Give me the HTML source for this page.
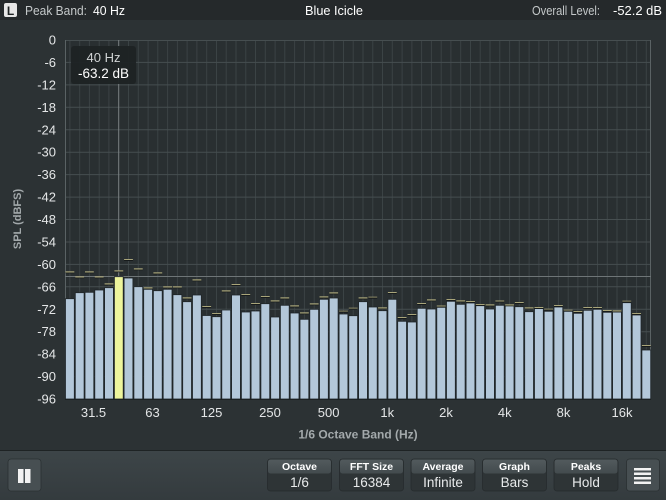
<!DOCTYPE html>
<html><head><meta charset="utf-8"><style>
html,body{margin:0;padding:0;background:#2c3234;}
svg{display:block;font-family:"Liberation Sans",sans-serif;}
</style></head><body>
<svg width="666" height="500" viewBox="0 0 666 500" xmlns="http://www.w3.org/2000/svg">
<defs>
<linearGradient id="pk" x1="0" y1="0" x2="0" y2="1"><stop offset="0" stop-color="#a9a57a"/><stop offset="0.5" stop-color="#a9a57a"/><stop offset="0.5" stop-color="#161a1b"/><stop offset="1" stop-color="#161a1b"/></linearGradient>
<linearGradient id="tb" x1="0" y1="0" x2="0" y2="1"><stop offset="0" stop-color="#3d4548"/><stop offset="1" stop-color="#343b3e"/></linearGradient>
<linearGradient id="bh" x1="0" y1="0" x2="0" y2="1"><stop offset="0" stop-color="#525a5d"/><stop offset="1" stop-color="#434b4e"/></linearGradient>
</defs>
<rect x="0" y="0" width="666" height="500" fill="#2c3234"/>
<rect x="0" y="0" width="666" height="20" fill="#25292b"/>
<rect x="4" y="3" width="13" height="14" rx="2" fill="#e6e6e6"/>
<text x="10.5" y="15" font-size="12" font-weight="bold" fill="#1d2122" text-anchor="middle">L</text>
<text x="25" y="15" font-size="13" fill="#c4c8c9" textLength="62" lengthAdjust="spacingAndGlyphs">Peak Band:</text>
<text x="93" y="15" font-size="13" fill="#ffffff" textLength="32" lengthAdjust="spacingAndGlyphs">40 Hz</text>
<text x="334" y="15" font-size="13" fill="#ffffff" text-anchor="middle" textLength="58" lengthAdjust="spacingAndGlyphs">Blue Icicle</text>
<text x="532" y="15" font-size="13" fill="#c4c8c9" textLength="68" lengthAdjust="spacingAndGlyphs">Overall Level:</text>
<text x="613" y="15" font-size="13" fill="#ffffff" textLength="49" lengthAdjust="spacingAndGlyphs">-52.2 dB</text>

<rect x="65" y="40" width="586" height="359" fill="#292f31"/>
<g stroke="#3b4345" stroke-width="1">
<path d="M69.9 40V399M79.7 40V399M89.4 40V399M99.2 40V399M108.9 40V399M128.5 40V399M138.3 40V399M148.1 40V399M157.8 40V399M167.6 40V399M177.4 40V399M187.1 40V399M196.9 40V399M206.7 40V399M216.5 40V399M226.2 40V399M236.0 40V399M245.8 40V399M255.5 40V399M265.3 40V399M275.1 40V399M284.8 40V399M294.6 40V399M304.4 40V399M314.2 40V399M323.9 40V399M333.7 40V399M343.5 40V399M353.2 40V399M363.0 40V399M372.8 40V399M382.5 40V399M392.3 40V399M402.1 40V399M411.9 40V399M421.6 40V399M431.4 40V399M441.2 40V399M450.9 40V399M460.7 40V399M470.5 40V399M480.2 40V399M490.0 40V399M499.8 40V399M509.6 40V399M519.3 40V399M529.1 40V399M538.9 40V399M548.6 40V399M558.4 40V399M568.2 40V399M577.9 40V399M587.7 40V399M597.5 40V399M607.3 40V399M617.0 40V399M626.8 40V399M636.6 40V399M646.3 40V399"/>
</g>
<g stroke="#464e50" stroke-width="1">
<path d="M65 40.5H651M65 62.4H651M65 84.9H651M65 107.3H651M65 129.8H651M65 152.2H651M65 174.6H651M65 197.1H651M65 219.5H651M65 242H651M65 264.4H651M65 286.8H651M65 309.3H651M65 331.7H651M65 354.2H651M65 376.6H651"/>
</g>
<path d="M65.5 40V399M650.5 40V399" stroke="#5a6264" stroke-width="1"/>
<path d="M118.7 40V399" stroke="#7a8183" stroke-width="1"/>
<path d="M65 276.5H651" stroke="#6e7577" stroke-width="1"/>

<g fill="#b3c7d9" stroke="#1f2528" stroke-width="0.8">
<rect x="65.5" y="298.7" width="8.8" height="100.3"/>
<rect x="75.3" y="292.7" width="8.8" height="106.3"/>
<rect x="85.0" y="292.3" width="8.8" height="106.7"/>
<rect x="94.8" y="290.0" width="8.8" height="109.0"/>
<rect x="104.6" y="287.7" width="8.8" height="111.3"/>
<rect x="124.1" y="278.0" width="8.8" height="121.0"/>
<rect x="133.9" y="286.7" width="8.8" height="112.3"/>
<rect x="143.7" y="289.3" width="8.8" height="109.7"/>
<rect x="153.4" y="290.7" width="8.8" height="108.3"/>
<rect x="163.2" y="289.3" width="8.8" height="109.7"/>
<rect x="173.0" y="294.7" width="8.8" height="104.3"/>
<rect x="182.7" y="301.7" width="8.8" height="97.3"/>
<rect x="192.5" y="295.0" width="8.8" height="104.0"/>
<rect x="202.3" y="315.5" width="8.8" height="83.5"/>
<rect x="212.1" y="316.7" width="8.8" height="82.3"/>
<rect x="221.8" y="310.0" width="8.8" height="89.0"/>
<rect x="231.6" y="295.0" width="8.8" height="104.0"/>
<rect x="241.4" y="312.0" width="8.8" height="87.0"/>
<rect x="251.1" y="311.0" width="8.8" height="88.0"/>
<rect x="260.9" y="303.7" width="8.8" height="95.3"/>
<rect x="270.7" y="317.0" width="8.8" height="82.0"/>
<rect x="280.4" y="305.3" width="8.8" height="93.7"/>
<rect x="290.2" y="313.0" width="8.8" height="86.0"/>
<rect x="300.0" y="319.3" width="8.8" height="79.7"/>
<rect x="309.8" y="309.3" width="8.8" height="89.7"/>
<rect x="319.5" y="299.3" width="8.8" height="99.7"/>
<rect x="329.3" y="298.0" width="8.8" height="101.0"/>
<rect x="339.1" y="314.0" width="8.8" height="85.0"/>
<rect x="348.8" y="315.7" width="8.8" height="83.3"/>
<rect x="358.6" y="301.7" width="8.8" height="97.3"/>
<rect x="368.4" y="307.0" width="8.8" height="92.0"/>
<rect x="378.1" y="310.7" width="8.8" height="88.3"/>
<rect x="387.9" y="299.3" width="8.8" height="99.7"/>
<rect x="397.7" y="321.3" width="8.8" height="77.7"/>
<rect x="407.5" y="322.0" width="8.8" height="77.0"/>
<rect x="417.2" y="308.3" width="8.8" height="90.7"/>
<rect x="427.0" y="309.0" width="8.8" height="90.0"/>
<rect x="436.8" y="307.3" width="8.8" height="91.7"/>
<rect x="446.5" y="301.3" width="8.8" height="97.7"/>
<rect x="456.3" y="304.3" width="8.8" height="94.7"/>
<rect x="466.1" y="303.0" width="8.8" height="96.0"/>
<rect x="475.8" y="305.7" width="8.8" height="93.3"/>
<rect x="485.6" y="309.0" width="8.8" height="90.0"/>
<rect x="495.4" y="305.3" width="8.8" height="93.7"/>
<rect x="505.2" y="305.7" width="8.8" height="93.3"/>
<rect x="514.9" y="306.7" width="8.8" height="92.3"/>
<rect x="524.7" y="311.7" width="8.8" height="87.3"/>
<rect x="534.5" y="308.3" width="8.8" height="90.7"/>
<rect x="544.2" y="311.3" width="8.8" height="87.7"/>
<rect x="554.0" y="307.0" width="8.8" height="92.0"/>
<rect x="563.8" y="311.0" width="8.8" height="88.0"/>
<rect x="573.5" y="313.3" width="8.8" height="85.7"/>
<rect x="583.3" y="310.3" width="8.8" height="88.7"/>
<rect x="593.1" y="309.3" width="8.8" height="89.7"/>
<rect x="602.9" y="312.3" width="8.8" height="86.7"/>
<rect x="612.6" y="312.0" width="8.8" height="87.0"/>
<rect x="622.4" y="302.7" width="8.8" height="96.3"/>
<rect x="632.2" y="315.0" width="8.8" height="84.0"/>
<rect x="641.9" y="350.0" width="8.8" height="49.0"/>
</g>
<rect x="114.4" y="276.7" width="8.8" height="122.3" fill="#eef59c" stroke="#1f2528" stroke-width="0.8"/>

<g fill="url(#pk)">
<rect x="65.5" y="271.3" width="8.8" height="2"/>
<rect x="75.3" y="276.3" width="8.8" height="2"/>
<rect x="85.0" y="271.3" width="8.8" height="2"/>
<rect x="94.8" y="276.3" width="8.8" height="2"/>
<rect x="104.6" y="283.3" width="8.8" height="2"/>
<rect x="114.4" y="270.3" width="8.8" height="2"/>
<rect x="124.1" y="259.0" width="8.8" height="2"/>
<rect x="133.9" y="268.3" width="8.8" height="2"/>
<rect x="143.7" y="287.3" width="8.8" height="2"/>
<rect x="153.4" y="272.3" width="8.8" height="2"/>
<rect x="163.2" y="286.3" width="8.8" height="2"/>
<rect x="173.0" y="286.3" width="8.8" height="2"/>
<rect x="182.7" y="297.3" width="8.8" height="2"/>
<rect x="192.5" y="279.3" width="8.8" height="2"/>
<rect x="202.3" y="306.0" width="8.8" height="2"/>
<rect x="212.1" y="313.0" width="8.8" height="2"/>
<rect x="221.8" y="290.3" width="8.8" height="2"/>
<rect x="231.6" y="284.0" width="8.8" height="2"/>
<rect x="241.4" y="294.0" width="8.8" height="2"/>
<rect x="251.1" y="303.0" width="8.8" height="2"/>
<rect x="260.9" y="296.0" width="8.8" height="2"/>
<rect x="270.7" y="300.3" width="8.8" height="2"/>
<rect x="280.4" y="297.3" width="8.8" height="2"/>
<rect x="290.2" y="305.3" width="8.8" height="2"/>
<rect x="300.0" y="312.3" width="8.8" height="2"/>
<rect x="309.8" y="303.3" width="8.8" height="2"/>
<rect x="319.5" y="296.3" width="8.8" height="2"/>
<rect x="329.3" y="292.3" width="8.8" height="2"/>
<rect x="339.1" y="310.7" width="8.8" height="2"/>
<rect x="348.8" y="307.7" width="8.8" height="2"/>
<rect x="358.6" y="297.3" width="8.8" height="2"/>
<rect x="368.4" y="296.7" width="8.8" height="2"/>
<rect x="378.1" y="307.3" width="8.8" height="2"/>
<rect x="387.9" y="292.0" width="8.8" height="2"/>
<rect x="397.7" y="317.0" width="8.8" height="2"/>
<rect x="407.5" y="314.0" width="8.8" height="2"/>
<rect x="417.2" y="303.0" width="8.8" height="2"/>
<rect x="427.0" y="299.3" width="8.8" height="2"/>
<rect x="436.8" y="305.5" width="8.8" height="2"/>
<rect x="446.5" y="299.0" width="8.8" height="2"/>
<rect x="456.3" y="300.3" width="8.8" height="2"/>
<rect x="466.1" y="301.0" width="8.8" height="2"/>
<rect x="475.8" y="304.0" width="8.8" height="2"/>
<rect x="485.6" y="304.3" width="8.8" height="2"/>
<rect x="495.4" y="300.5" width="8.8" height="2"/>
<rect x="505.2" y="304.3" width="8.8" height="2"/>
<rect x="514.9" y="302.0" width="8.8" height="2"/>
<rect x="524.7" y="307.3" width="8.8" height="2"/>
<rect x="534.5" y="307.0" width="8.8" height="2"/>
<rect x="544.2" y="308.7" width="8.8" height="2"/>
<rect x="554.0" y="305.0" width="8.8" height="2"/>
<rect x="563.8" y="309.7" width="8.8" height="2"/>
<rect x="573.5" y="311.0" width="8.8" height="2"/>
<rect x="583.3" y="307.0" width="8.8" height="2"/>
<rect x="593.1" y="307.0" width="8.8" height="2"/>
<rect x="602.9" y="310.0" width="8.8" height="2"/>
<rect x="612.6" y="310.3" width="8.8" height="2"/>
<rect x="622.4" y="300.7" width="8.8" height="2"/>
<rect x="632.2" y="313.0" width="8.8" height="2"/>
<rect x="641.9" y="345.0" width="8.8" height="2"/>
</g>
<path d="M65 399.5H651" stroke="#1c2122" stroke-width="1"/>

<rect x="71" y="46" width="65" height="38" rx="3" fill="#1e2324" opacity="0.95"/>
<text x="103.5" y="62" font-size="13" fill="#d0d3d4" text-anchor="middle">40 Hz</text>
<text x="103.5" y="78" font-size="13.5" fill="#ffffff" text-anchor="middle">-63.2 dB</text>

<g font-size="13" fill="#e4e6e7" text-anchor="end">
<text x="56" y="44.5">0</text>
<text x="56" y="66.9">-6</text>
<text x="56" y="89.4">-12</text>
<text x="56" y="111.8">-18</text>
<text x="56" y="134.3">-24</text>
<text x="56" y="156.7">-30</text>
<text x="56" y="179.1">-36</text>
<text x="56" y="201.6">-42</text>
<text x="56" y="224">-48</text>
<text x="56" y="246.5">-54</text>
<text x="56" y="268.9">-60</text>
<text x="56" y="291.3">-66</text>
<text x="56" y="313.8">-72</text>
<text x="56" y="336.2">-78</text>
<text x="56" y="358.7">-84</text>
<text x="56" y="381.1">-90</text>
<text x="56" y="403.5">-96</text>
</g>
<text transform="translate(21,219) rotate(-90)" font-size="11" font-weight="bold" fill="#a3a9ab" text-anchor="middle">SPL (dBFS)</text>

<g font-size="13" fill="#e4e6e7" text-anchor="middle">
<text x="93.5" y="417">31.5</text>
<text x="152.5" y="417">63</text>
<text x="211.5" y="417">125</text>
<text x="270" y="417">250</text>
<text x="328.6" y="417">500</text>
<text x="387.3" y="417">1k</text>
<text x="446" y="417">2k</text>
<text x="504.8" y="417">4k</text>
<text x="563.5" y="417">8k</text>
<text x="622" y="417">16k</text>
</g>
<text x="358" y="438.5" font-size="12" font-weight="bold" fill="#a3a9ab" text-anchor="middle">1/6 Octave Band (Hz)</text>

<rect x="0" y="451" width="666" height="49" fill="url(#tb)"/>
<rect x="0" y="450" width="666" height="1" fill="#1e2324"/>
<rect x="8" y="459" width="33" height="32" rx="3" fill="#474f52" stroke="#2a3032" stroke-width="0.8"/>
<rect x="18" y="469" width="5.5" height="14" fill="#f2f2f2"/>
<rect x="25" y="469" width="5.5" height="14" fill="#f2f2f2"/>

<rect x="267.5" y="459" width="64" height="32" rx="3" fill="#2e3436" stroke="#262b2d" stroke-width="0.8"/>
<rect x="268" y="459.5" width="63" height="14" rx="2.5" fill="url(#bh)"/>
<rect x="339.5" y="459" width="64" height="32" rx="3" fill="#2e3436" stroke="#262b2d" stroke-width="0.8"/>
<rect x="340" y="459.5" width="63" height="14" rx="2.5" fill="url(#bh)"/>
<rect x="411" y="459" width="64" height="32" rx="3" fill="#2e3436" stroke="#262b2d" stroke-width="0.8"/>
<rect x="411.5" y="459.5" width="63" height="14" rx="2.5" fill="url(#bh)"/>
<rect x="482.5" y="459" width="64" height="32" rx="3" fill="#2e3436" stroke="#262b2d" stroke-width="0.8"/>
<rect x="483" y="459.5" width="63" height="14" rx="2.5" fill="url(#bh)"/>
<rect x="554" y="459" width="64" height="32" rx="3" fill="#2e3436" stroke="#262b2d" stroke-width="0.8"/>
<rect x="554.5" y="459.5" width="63" height="14" rx="2.5" fill="url(#bh)"/>
<g font-size="10.5" font-weight="bold" fill="#ffffff" text-anchor="middle">
<text x="299.5" y="470">Octave</text>
<text x="371.5" y="470">FFT Size</text>
<text x="443" y="470">Average</text>
<text x="514.5" y="470">Graph</text>
<text x="586" y="470">Peaks</text>
</g>
<g font-size="13.5" fill="#e8eaeb" text-anchor="middle">
<text x="299.5" y="487">1/6</text>
<text x="371.5" y="487">16384</text>
<text x="443" y="487">Infinite</text>
<text x="514.5" y="487">Bars</text>
<text x="586" y="487">Hold</text>
</g>
<rect x="626.5" y="459" width="33" height="32" rx="3" fill="#474f52" stroke="#2a3032" stroke-width="0.8"/>
<g fill="#f2f2f2">
<rect x="634" y="468" width="17" height="2.5"/>
<rect x="634" y="472.5" width="17" height="2.5"/>
<rect x="634" y="477" width="17" height="2.5"/>
<rect x="634" y="481.5" width="17" height="2.5"/>
</g>
</svg>
</body></html>
